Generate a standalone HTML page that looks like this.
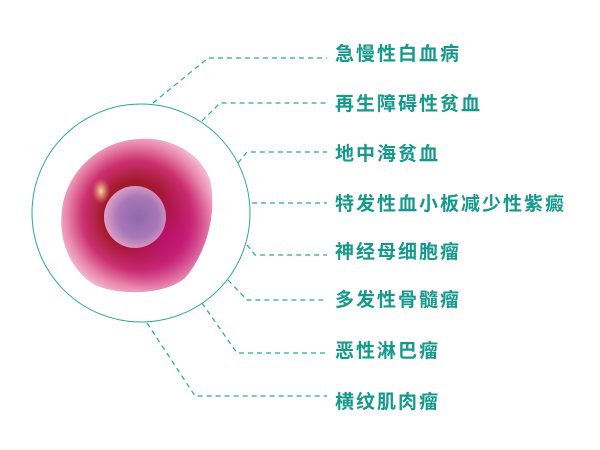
<!DOCTYPE html>
<html><head><meta charset="utf-8"><style>
html,body{margin:0;padding:0;background:#fff;width:600px;height:450px;overflow:hidden}
.t{position:absolute;left:335px;font-family:"Liberation Sans","Noto Sans CJK SC",sans-serif;font-weight:bold;font-size:19px;letter-spacing:2px;color:#15998b;line-height:20px;white-space:nowrap}
</style></head><body>
<svg width="600" height="450" style="position:absolute;left:0;top:0">
<defs>
<radialGradient id="cell" cx="0.5" cy="0.5" r="0.55">
<stop offset="0" stop-color="#8a1030"/>
<stop offset="0.4" stop-color="#a01a2a"/>
<stop offset="0.65" stop-color="#cc3070"/>
<stop offset="0.85" stop-color="#e98aae"/>
<stop offset="1" stop-color="#f6c4d4"/>
</radialGradient>
<radialGradient id="mag" cx="0.7" cy="0.65" r="0.4">
<stop offset="0" stop-color="#c0107a" stop-opacity="0.8"/>
<stop offset="1" stop-color="#c0107a" stop-opacity="0"/>
</radialGradient>
<radialGradient id="hl" cx="0.5" cy="0.5" r="0.5">
<stop offset="0" stop-color="#fbe0a8"/>
<stop offset="1" stop-color="#e89070" stop-opacity="0"/>
</radialGradient>
<radialGradient id="nuc" cx="0.55" cy="0.5" r="0.55">
<stop offset="0" stop-color="#9068ac"/>
<stop offset="0.6" stop-color="#a878b6"/>
<stop offset="1" stop-color="#e4a0c8"/>
</radialGradient>
</defs>
<circle cx="141" cy="213" r="109" fill="none" stroke="#2aa79a" stroke-width="1"/>
<path d="M138 139 C165 136 200 150 210 180 C218 215 205 255 185 278 C165 295 120 296 95 285 C70 270 58 240 62 210 C66 175 95 142 138 139 Z" fill="url(#cell)"/>
<path d="M138 139 C165 136 200 150 210 180 C218 215 205 255 185 278 C165 295 120 296 95 285 C70 270 58 240 62 210 C66 175 95 142 138 139 Z" fill="url(#mag)"/>
<ellipse cx="101" cy="191" rx="9" ry="13" fill="url(#hl)"/>
<circle cx="135" cy="217" r="31" fill="url(#nuc)"/>
<g fill="none" stroke="#2aa79a" stroke-width="1.2" stroke-dasharray="5,4">
<polyline points="153,103 208,58 327,58"/>
<polyline points="202,121 220,103 327,103"/>
<polyline points="238,163 247,152 327,152"/>
<polyline points="252,203 327,203"/>
<polyline points="247,245 255,255 327,255"/>
<polyline points="228,280 247,300 327,300"/>
<polyline points="202,303 237,353 327,353"/>
<polyline points="147,323 195,396 327,396"/>
</g>
</svg>
<div class="t" style="top:45px">急慢性白血病</div>
<div class="t" style="top:95px">再生障碍性贫血</div>
<div class="t" style="top:145px">地中海贫血</div>
<div class="t" style="top:195px">特发性血小板减少性紫癜</div>
<div class="t" style="top:243px">神经母细胞瘤</div>
<div class="t" style="top:291px">多发性骨髓瘤</div>
<div class="t" style="top:342px">恶性淋巴瘤</div>
<div class="t" style="top:393px">横纹肌肉瘤</div>
</body></html>
